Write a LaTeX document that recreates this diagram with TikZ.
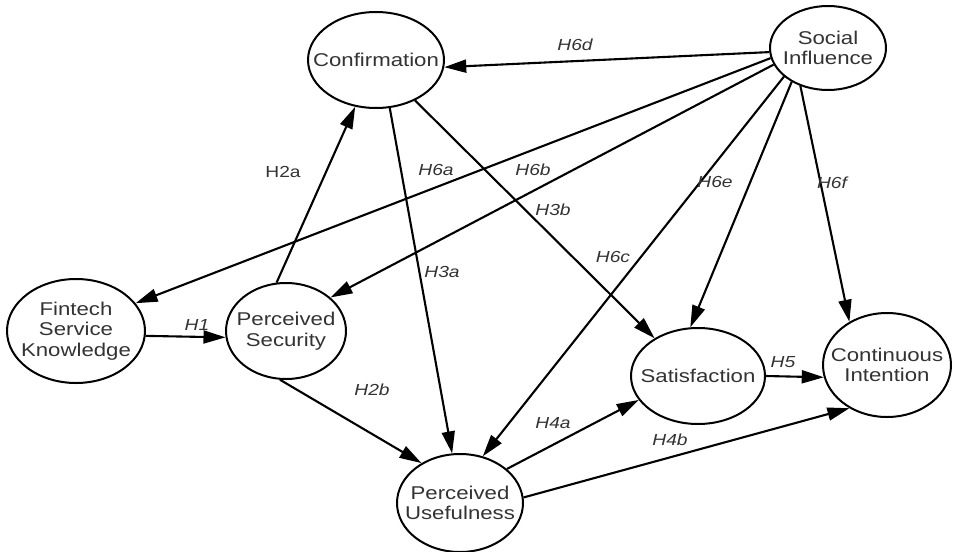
\documentclass[tikz,border=0pt]{standalone}
\usepackage{fontspec}
\setmainfont[FakeStretch=1.2]{Liberation Sans}
\usetikzlibrary{shapes.geometric,arrows.meta}

\begin{document}
\begin{tikzpicture}[x=1pt,y=-1pt,
  ell/.style={draw=black, ellipse, line width=2pt, inner sep=0pt},
  ctext/.style={align=center, text=black!80, inner sep=0pt,
    font=\fontsize{18.5}{20.5}\selectfont},
  hyp/.style={text=black!80, inner sep=0pt,
    font=\fontsize{16}{18}\selectfont\itshape},
  hypup/.style={hyp, font=\fontsize{16}{18}\selectfont\upshape},
  arr/.style={line width=2.1pt, -{Triangle[length=22pt,width=13pt]}}]

\fill[white] (0,0) rectangle (954,552);
\useasboundingbox (0,0) rectangle (954,552);

% constructs
\node[ell, minimum width=136pt, minimum height=96pt]  (conf) at (376,60)  {};
\node[ell, minimum width=116pt, minimum height=84pt]  (si)   at (828,48)  {};
\node[ell, minimum width=138pt, minimum height=104pt] (fsk)  at (76,331)  {};
\node[ell, minimum width=120pt, minimum height=96pt]  (ps)   at (286,331) {};
\node[ell, minimum width=134pt, minimum height=96pt]  (sat)  at (698,376) {};
\node[ell, minimum width=128pt, minimum height=104pt] (ci)   at (887,365) {};
\node[ell, minimum width=126pt, minimum height=98pt]  (pu)   at (460,503) {};

\node[ctext] (conf-t) at (conf) {Confirmation};
\node[ctext] (si-t)   at (si)   {Social\\Influence};
\node[ctext] (fsk-t)  at (fsk)  {Fintech\\Service\\Knowledge};
\node[ctext] (ps-t)   at (ps)   {Perceived\\Security};
\node[ctext] (sat-t)  at (sat)  {Satisfaction};
\node[ctext] (ci-t)   at (ci)   {Continuous\\Intention};
\node[ctext] (pu-t)   at (pu)   {Perceived\\Usefulness};

% paths from social influence
\draw[arr] (si.184) -- (conf.354);
\draw[arr] (si.190) -- (fsk.25);
\draw[arr] (si.197) -- (ps.37);
\draw[arr] (si.213) -- (pu.64);
\draw[arr] (si.223) -- (sat.99);
\draw[arr] (si.234) -- (ci.131);

% remaining paths
\draw[arr] (fsk.-4) -- (ps.186);
\draw[arr] (ps.101) -- (conf.246);
\draw[arr] (ps.263) -- (pu.134);
\draw[arr] (conf.286) -- (pu.99);
\draw[arr] (conf.314) -- (sat.139);
\draw[arr] (pu.36) -- (sat.202);
\draw[arr] (pu.5) -- (ci.229);
\draw[arr] (sat.0) -- (ci.191);

% hypothesis labels
\node[hyp]   (l6d) at (575,45)  {H6d};
\node[hyp]   (l6a) at (436,170) {H6a};
\node[hyp]   (l6b) at (533,170) {H6b};
\node[hyp]   (l3b) at (553,210) {H3b};
\node[hyp]   (l6c) at (613,257) {H6c};
\node[hyp]   (l6e) at (715,182) {H6e};
\node[hyp]   (l6f) at (832,183) {H6f};
\node[hypup] (l2a) at (283,172) {H2a};
\node[hyp]   (l3a) at (442,272) {H3a};
\node[hyp]   (l1)  at (197,325) {H1};
\node[hyp]   (l2b) at (372,390) {H2b};
\node[hyp]   (l4a) at (553,423) {H4a};
\node[hyp]   (l4b) at (670,440) {H4b};
\node[hyp]   (l5)  at (783,362) {H5};
\end{tikzpicture}
\end{document}
